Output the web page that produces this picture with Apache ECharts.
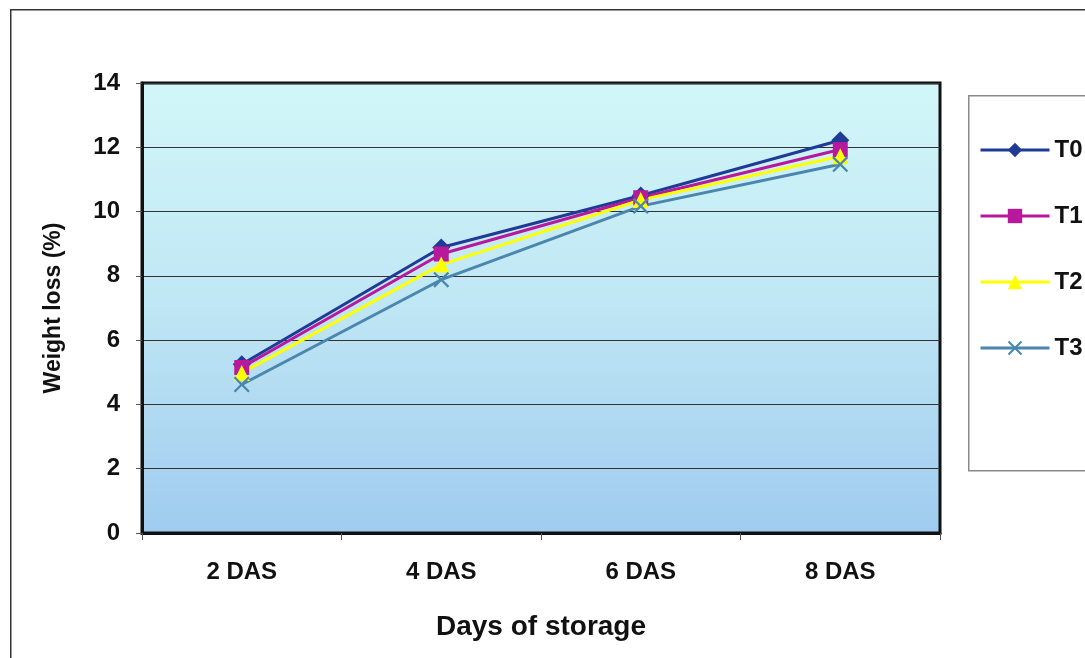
<!DOCTYPE html>
<html>
<head>
<meta charset="utf-8">
<script src="https://cdn.jsdelivr.net/npm/echarts@6/dist/echarts.min.js"></script>
<style>
  html, body { margin: 0; padding: 0; background: #ffffff; }
  #chart { width: 1085px; height: 658px; }
</style>
</head>
<body>
<div id="chart"></div>
<script>
// Weight loss during storage, by treatment
const categories = ['2 DAS', '4 DAS', '6 DAS', '8 DAS'];
const t0 = [5.25, 8.88, 10.5, 12.22];
const t1 = [5.15, 8.68, 10.43, 11.93];
const t2 = [4.98, 8.35, 10.36, 11.72];
const t3 = [4.62, 7.88, 10.17, 11.47];
const yTicks = [0, 2, 4, 6, 8, 10, 12, 14];

const FONT = '"Liberation Sans", Arial, sans-serif';
const crossPath = 'path://M0,1L1,0L5,4L9,0L10,1L6,5L10,9L9,10L5,6L1,10L0,9L4,5Z';

function lineSeries(name, data, color, symbol, size) {
  return {
    name, type: 'line', data,
    symbol, symbolSize: size,
    lineStyle: { color, width: 3 },
    itemStyle: { color },
    emphasis: { disabled: true },
    z: 3
  };
}

const chart = echarts.init(document.getElementById('chart'));
chart.setOption({
  animation: false,
  backgroundColor: '#ffffff',
  textStyle: { fontFamily: FONT },
  graphic: [
    { type: 'rect', left: 10, top: 9, z: -10, silent: true,
      shape: { width: 1200, height: 800 },
      style: { fill: '#ffffff', stroke: '#333333', lineWidth: 1.5 } },
    { type: 'rect', left: 968, top: 95, z: -5, silent: true,
      shape: { width: 200, height: 375 },
      style: { fill: '#ffffff', stroke: '#8a8a8a', lineWidth: 1.5 } }
  ],
  grid: {
    left: 142, top: 83, right: 145, bottom: 125,
    show: true, borderColor: '#111', borderWidth: 3,
    backgroundColor: new echarts.graphic.LinearGradient(0, 0, 0, 1, [
      { offset: 0, color: '#d2f7f9' },
      { offset: 0.5, color: '#bfe6f4' },
      { offset: 1, color: '#9fcbef' }
    ])
  },
  legend: {
    orient: 'vertical', left: 974, top: 133, itemGap: 42,
    itemWidth: 69, itemHeight: 18,
    lineStyle: { width: 3 },
    textStyle: { fontFamily: FONT, fontSize: 24, fontWeight: 'bold', color: '#111', lineHeight: 24 },
    data: ['T0', 'T1', 'T2', 'T3']
  },
  xAxis: {
    type: 'category', data: categories,
    name: 'Days of storage', nameLocation: 'middle', nameGap: 80,
    nameTextStyle: { fontFamily: FONT, fontSize: 28, fontWeight: 'bold', color: '#111' },
    axisLine: { lineStyle: { color: '#111', width: 3 } },
    axisTick: { show: true, length: 7, lineStyle: { color: '#555', width: 1 } },
    axisLabel: { margin: 27, fontFamily: FONT, fontSize: 24, fontWeight: 'bold', color: '#111' }
  },
  yAxis: {
    type: 'value', min: 0, max: 14, interval: 2,
    name: 'Weight loss (%)', nameLocation: 'middle', nameGap: 77,
    nameTextStyle: { fontFamily: FONT, fontSize: 23, fontWeight: 'bold', color: '#111' },
    axisLine: { show: true, lineStyle: { color: '#111', width: 3 } },
    axisTick: { show: true, length: 6, lineStyle: { color: '#555', width: 1 } },
    axisLabel: {
      margin: 22, fontFamily: FONT, fontSize: 24, fontWeight: 'bold', color: '#111',
      formatter: v => (yTicks.includes(v) ? String(v) : '')
    },
    splitLine: { show: true, lineStyle: { color: '#333', width: 1 } }
  },
  series: [
    lineSeries('T0', t0, '#1f3b96', 'diamond', 18),
    lineSeries('T1', t1, '#b8189c', 'rect', 15),
    lineSeries('T2', t2, '#ffff00', 'triangle', 16),
    lineSeries('T3', t3, '#4a86ad', crossPath, 16)
  ]
});
</script>
</body>
</html>
